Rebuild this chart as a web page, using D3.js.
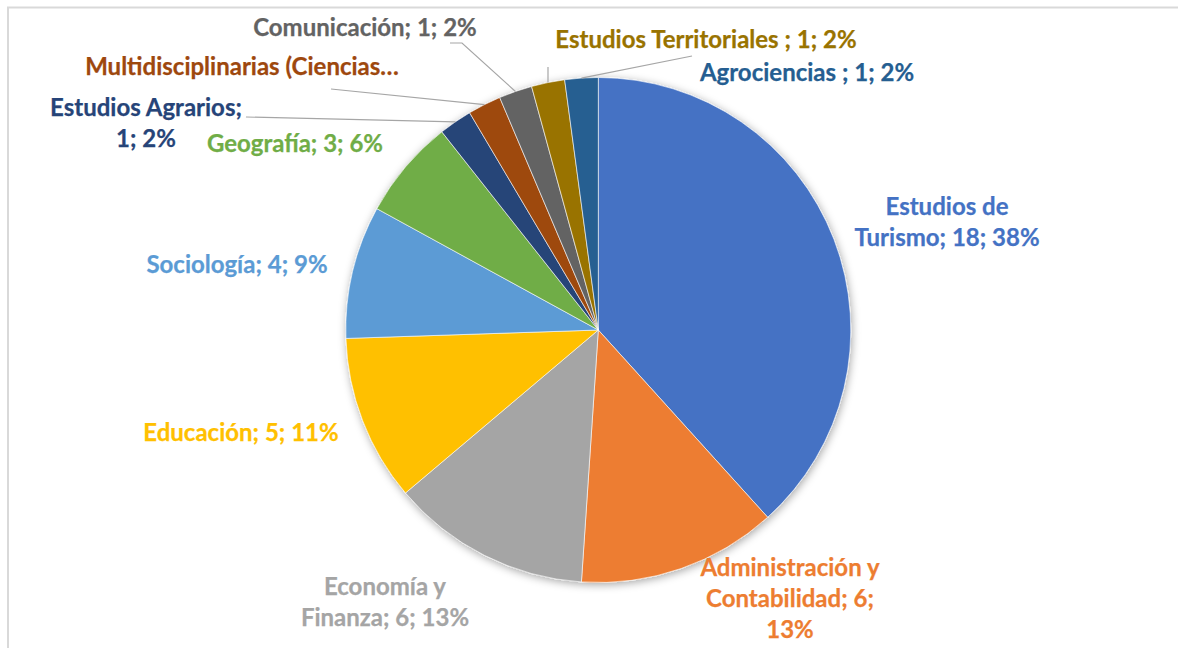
<!DOCTYPE html>
<html><head><meta charset="utf-8">
<script src="https://cdn.jsdelivr.net/npm/d3@7"></script>
<style>
html,body{margin:0;padding:0;background:#fff;}
svg text{font-family:Lato,"Open Sans",sans-serif;font-weight:bold;}
</style></head>
<body><svg id="c" width="1178" height="648"></svg>
<script>
const categories = ["Estudios de Turismo","Administración y Contabilidad","Economía y Finanza","Educación","Sociología","Geografía","Estudios Agrarios","Multidisciplinarias (Ciencias…","Comunicación","Estudios Territoriales","Agrociencias"];
const values = [18,6,6,5,4,3,1,1,1,1,1];
const percents = ["38%","13%","13%","11%","9%","6%","2%","2%","2%","2%","2%"];
const colors = ["#4472C4","#ED7D31","#A5A5A5","#FFC000","#5B9BD5","#70AD47","#264478","#9E480E","#636363","#997300","#255E91"];
// label text lines
const labelLines = [
  ["Estudios de","Turismo; 18; 38%"],
  ["Administración y","Contabilidad; 6;","13%"],
  ["Economía y","Finanza; 6; 13%"],
  ["Educación; 5; 11%"],
  ["Sociología; 4; 9%"],
  ["Geografía; 3; 6%"],
  ["Estudios Agrarios;","1; 2%"],
  ["Multidisciplinarias (Ciencias…"],
  ["Comunicación; 1; 2%"],
  ["Estudios Territoriales ; 1; 2%"],
  ["Agrociencias ; 1; 2%"]
];

const svg = d3.select("#c");
const cx = 598.3, cy = 330, R = 252.5;
const fontSize = 24, lineH = 31;

// chart frame
svg.append("rect").attr("x",8).attr("y",7.5).attr("width",1300).attr("height",800)
  .attr("fill","none").attr("stroke","#D9D9D9").attr("stroke-width",2);

const defs = svg.append("defs");
const f = defs.append("filter").attr("id","sh").attr("x","-20%").attr("y","-20%").attr("width","140%").attr("height","140%");
f.append("feDropShadow").attr("dx",1).attr("dy",2).attr("stdDeviation",4).attr("flood-color","#000").attr("flood-opacity",0.35);

const pie = d3.pie().sort(null).value(d=>d);
const arcs = pie(values);
const arc = d3.arc().innerRadius(0).outerRadius(R);
const g = svg.append("g").attr("transform",`translate(${cx},${cy})`);
const pg = g.append("g").attr("filter","url(#sh)");
pg.selectAll("path").data(arcs).enter().append("path")
  .attr("d",arc).attr("fill",(d,i)=>colors[i])
  .attr("stroke","#fff").attr("stroke-width",0.6);

// label layout (center x, first baseline y)
const labelPos = [
  [947,215],[790,576],[385,595],[241,441],[237,273],[295,152],
  [146,116],[242,75],[365,36],[706,48],[807,81]
];
// leader line label-side anchor points (null = no leader; "end" = after first text line)
const leaderPts = [null,null,null,null,null,null,
  "end",[[331,89]],[[450,43],[462,43]],[[548,67]],[[692,56]]];

const textNodes = [];
labelLines.forEach((lines,i)=>{
  const t = svg.append("text").attr("text-anchor","middle")
    .attr("font-size",fontSize).attr("fill",colors[i])
    .attr("stroke",colors[i]).attr("stroke-width",0.25);
  const spans = lines.map((s,j)=>
    t.append("tspan").attr("x",labelPos[i][0]).attr("y",labelPos[i][1]+j*lineH).text(s));
  textNodes.push(spans);
});

arcs.forEach((d,i)=>{
  let lp = leaderPts[i];
  if(!lp) return;
  if(lp==="end"){
    const w = textNodes[i][0].node().getComputedTextLength();
    lp = [[labelPos[i][0]+w/2+4, labelPos[i][1]+1]];
  }
  const m = (d.startAngle+d.endAngle)/2;
  const px = cx + R*Math.sin(m), py = cy - R*Math.cos(m);
  const pts = lp.concat([[px,py]]);
  svg.insert("path","text").attr("d",d3.line()(pts)).attr("fill","none")
    .attr("stroke","#A6A6A6").attr("stroke-width",1.2);
});
</script></body></html>
